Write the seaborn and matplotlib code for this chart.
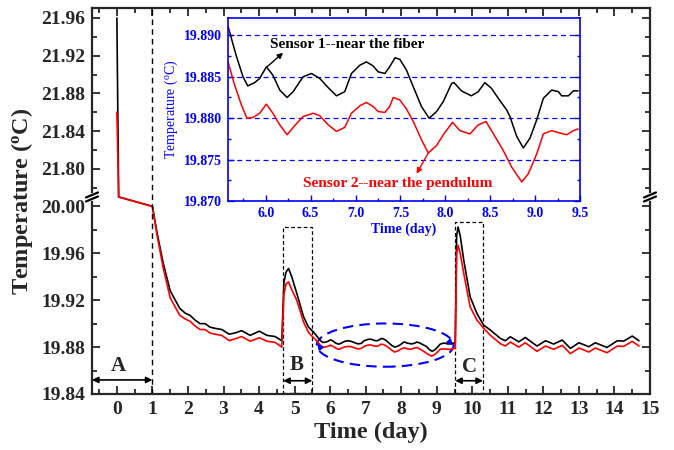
import numpy as np
import pandas as pd
import matplotlib
matplotlib.use("Agg")
import matplotlib.pyplot as plt
import seaborn as sns
from matplotlib.patches import Ellipse, Rectangle
from matplotlib.lines import Line2D
from matplotlib.ticker import FixedLocator, FormatStrFormatter, MultipleLocator

# ---- main curve, before the inset window (day 0 - 5.55)
pre_days = [0.00, 0.05, 1.00, 1.12, 1.30, 1.50, 1.77, 1.92, 2.06, 2.20, 2.34, 2.48,
            2.62, 2.76, 2.95, 3.16, 3.32, 3.51, 3.75, 4.01, 4.22, 4.45, 4.64, 4.70,
            4.76, 4.83, 4.92, 5.06, 5.25, 5.39, 5.53]
pre_black = [21.96, 21.77, 20.000, 19.979, 19.952, 19.928, 19.913, 19.909, 19.907, 19.903,
             19.900, 19.900, 19.897, 19.896, 19.895, 19.891, 19.892, 19.894, 19.890,
             19.8936, 19.890, 19.889, 19.8854, 19.935, 19.944, 19.947, 19.940, 19.926,
             19.906, 19.897, 19.893]
pre_red = [21.86, 21.77, 20.000, 19.977, 19.948, 19.922, 19.907, 19.904, 19.902, 19.898,
           19.895, 19.895, 19.892, 19.891, 19.890, 19.8855, 19.887, 19.889, 19.885,
           19.888, 19.885, 19.884, 19.880, 19.925, 19.934, 19.9356, 19.929, 19.920,
           19.9015, 19.8925, 19.888]

# ---- main curve, after the inset window (day 9.52 - 14.7)
post_days = [9.52, 9.56, 9.60, 9.66, 9.76, 9.94, 10.13, 10.32, 10.51, 10.79, 10.93,
             11.07, 11.31, 11.49, 11.82, 12.06, 12.29, 12.53, 12.76, 13.00, 13.28,
             13.46, 13.79, 14.08, 14.26, 14.50, 14.69]
post_black = [19.8840, 19.975, 19.9824, 19.975, 19.954, 19.9228, 19.9087, 19.8987,
              19.8945, 19.8874, 19.8854, 19.8888, 19.8845, 19.8882, 19.8809, 19.8854,
              19.8826, 19.8860, 19.8789, 19.8837, 19.8803, 19.8837, 19.8797, 19.8854,
              19.8851, 19.8894, 19.8854]
post_red = [19.8790, 19.960, 19.9668, 19.960, 19.9427, 19.9143, 19.903, 19.896,
            19.890, 19.8829, 19.8809, 19.8843, 19.8800, 19.8837, 19.8764, 19.8809,
            19.8781, 19.8815, 19.8744, 19.8792, 19.8758, 19.8792, 19.8752, 19.8809,
            19.8806, 19.8849, 19.8809]

# ---- inset window (day 5.58 - 9.48), also part of the main curve
ins_days_black = [5.58, 5.673, 5.747, 5.80, 5.877, 5.933, 6.007, 6.08, 6.156, 6.238,
                  6.305, 6.416, 6.51, 6.602, 6.695, 6.788, 6.88, 6.955, 7.048, 7.122,
                  7.197, 7.252, 7.327, 7.38, 7.44, 7.494, 7.568, 7.643, 7.735, 7.82,
                  7.903, 7.977, 8.07, 8.096, 8.18, 8.29, 8.367, 8.44, 8.515, 8.59,
                  8.683, 8.72, 8.795, 8.869, 8.943, 9.018, 9.092, 9.185, 9.26, 9.296,
                  9.37, 9.426, 9.48]
ins_black = [19.8911, 19.8875, 19.8850, 19.8839, 19.8843, 19.8848, 19.8862, 19.8852,
             19.8834, 19.8825, 19.8832, 19.8850, 19.8854, 19.8848, 19.8837, 19.8827,
             19.8832, 19.8854, 19.8864, 19.8868, 19.8863, 19.8856, 19.8854, 19.8862,
             19.8873, 19.8871, 19.8858, 19.8838, 19.8814, 19.8800, 19.8808, 19.8820,
             19.8842, 19.8843, 19.8833, 19.8827, 19.8832, 19.8843, 19.8836, 19.8824,
             19.8810, 19.8802, 19.8778, 19.8764, 19.8776, 19.8798, 19.8824, 19.8834,
             19.8832, 19.8827, 19.8827, 19.8833, 19.8833]
ins_days_red = [5.58, 5.654, 5.729, 5.79, 5.859, 5.933, 6.007, 6.08, 6.156, 6.238,
                6.323, 6.416, 6.528, 6.602, 6.695, 6.788, 6.88, 6.955, 7.048, 7.122,
                7.197, 7.252, 7.327, 7.38, 7.42, 7.494, 7.568, 7.643, 7.735, 7.81,
                7.903, 7.977, 8.08, 8.163, 8.274, 8.367, 8.453, 8.553, 8.645, 8.739,
                8.851, 8.925, 9.018, 9.092, 9.185, 9.278, 9.352, 9.426, 9.48]
ins_red = [19.8868, 19.8840, 19.8816, 19.8800, 19.8801, 19.8806, 19.8817, 19.8806,
           19.8792, 19.8780, 19.8791, 19.8802, 19.8806, 19.8803, 19.8792, 19.8784,
           19.8789, 19.8806, 19.8815, 19.8819, 19.8814, 19.8808, 19.8807, 19.8814,
           19.8825, 19.8822, 19.8811, 19.8796, 19.8774, 19.8758, 19.8767, 19.8780,
           19.8795, 19.8785, 19.8781, 19.8792, 19.8796, 19.8778, 19.8761, 19.8741,
           19.8723, 19.8733, 19.8757, 19.8781, 19.8785, 19.8782, 19.8780, 19.8785,
           19.8787]

main_yticks = [19.84, 19.88, 19.92, 19.96, 20.00, 21.80, 21.84, 21.88, 21.92, 21.96]
main_yminor = [19.86, 19.90, 19.94, 19.98, 21.78, 21.82, 21.86, 21.90, 21.94]
inset_yticks = [19.870, 19.875, 19.880, 19.885, 19.890]

# ---- broken y axis: 19.84-20.008 and 21.77-21.97 with the gap squeezed out
LO0, LO_TOP, HI_BOT = 19.84, 20.008, 21.77
LO_K, HI_K, GAP_K = 1175.0, 943.75, 0.01
BASE = (LO_TOP - LO0) * LO_K
GTOP = BASE + (HI_BOT - LO_TOP) * GAP_K


def fwd(y):
    y = np.asarray(y, dtype=float)
    lo = (y - LO0) * LO_K
    gap = BASE + (y - LO_TOP) * GAP_K
    hi = GTOP + (y - HI_BOT) * HI_K
    return np.where(y <= LO_TOP, lo, np.where(y >= HI_BOT, hi, gap))


def inv(v):
    v = np.asarray(v, dtype=float)
    lo = LO0 + v / LO_K
    gap = LO_TOP + (v - BASE) / GAP_K
    hi = HI_BOT + (v - GTOP) / HI_K
    return np.where(v <= BASE, lo, np.where(v >= GTOP, hi, gap))


def to_frame(days_b, vals_b, days_r, vals_r):
    return pd.concat([
        pd.DataFrame({"day": days_b, "temp": vals_b, "sensor": "Sensor 1"}),
        pd.DataFrame({"day": days_r, "temp": vals_r, "sensor": "Sensor 2"}),
    ], ignore_index=True)


sns.set_style("ticks", {"xtick.direction": "in", "ytick.direction": "in"})
plt.rcParams["font.family"] = ["Liberation Serif", "DejaVu Serif"]
plt.rcParams["font.weight"] = "bold"
plt.rcParams["mathtext.default"] = "regular"

palette = {"Sensor 1": "black", "Sensor 2": "red"}
BLUE = "#0000ff"

main_df = to_frame(pre_days + ins_days_black + post_days,
                   pre_black + ins_black + post_black,
                   pre_days + ins_days_red + post_days,
                   pre_red + ins_red + post_red)
inset_df = to_frame(ins_days_black, ins_black, ins_days_red, ins_red)

fig = plt.figure(figsize=(6.74, 4.5), dpi=100)
ax = fig.add_axes([92 / 674, 1 - 394 / 450, 558 / 674, 386 / 450])
ax.set_yscale("function", functions=(fwd, inv))

sns.lineplot(data=main_df, x="day", y="temp", hue="sensor", palette=palette,
             estimator=None, sort=False, legend=False, lw=1.2, ax=ax)

ax.set_xlim(-0.70, 15.0)
ax.set_ylim(19.84, 21.9706)
ax.xaxis.set_major_locator(MultipleLocator(1))
ax.xaxis.set_minor_locator(MultipleLocator(0.5))
ax.yaxis.set_major_locator(FixedLocator(main_yticks))
ax.yaxis.set_minor_locator(FixedLocator(main_yminor))
ax.yaxis.set_major_formatter(FormatStrFormatter("%.2f"))
ax.tick_params(which="both", direction="in", top=True, right=True, width=1.3)
ax.tick_params(which="major", length=6, labelsize=14, pad=5)
ax.tick_params(which="minor", length=3.5)
for s in ax.spines.values():
    s.set_linewidth(1.6)
ax.set_xlabel("Time (day)", fontsize=17.5, fontweight="bold", labelpad=3)
ax.set_ylabel("Temperature ($\\mathregular{^o}$C)", fontsize=17.5,
              fontweight="bold", labelpad=4)

# dashed guide at day 1 and the A / B / C markers
ax.axvline(1.0, color="black", ls=(0, (4, 3)), lw=1.0)
ax.add_patch(Rectangle((4.68, 19.8405), 0.82, 0.1419, fill=False, ec="black",
                       ls=(0, (3, 2)), lw=0.9))
ax.add_patch(Rectangle((9.52, 19.8405), 0.78, 0.1461, fill=False, ec="black",
                       ls=(0, (3, 2)), lw=0.9))
arrow = dict(arrowstyle="<|-|>", color="black", lw=1.2, mutation_scale=9,
             shrinkA=0, shrinkB=0)
ax.annotate("", xy=(-0.70, 19.852), xytext=(1.0, 19.852), arrowprops=arrow)
ax.annotate("", xy=(4.68, 19.8513), xytext=(5.50, 19.8513), arrowprops=arrow)
ax.annotate("", xy=(9.52, 19.8513), xytext=(10.30, 19.8513), arrowprops=arrow)
for lab, lx, ly in [("A", 0.03, 19.8638), ("B", 5.06, 19.8647), ("C", 9.92, 19.8632)]:
    ax.text(lx, ly, lab, fontsize=15, fontweight="bold", ha="center", va="center")

ax.add_patch(Ellipse((7.55, 19.8817), 3.85, 0.0369, fill=False, ec=BLUE,
                     ls=(0, (5, 3)), lw=1.5))
small = dict(arrowstyle="-|>", color=BLUE, lw=1.2, mutation_scale=8, shrinkA=0, shrinkB=0)
ax.annotate("", xy=(9.46, 19.8815), xytext=(9.38, 19.8840), arrowprops=small)
ax.annotate("", xy=(5.64, 19.8830), xytext=(5.70, 19.8805), arrowprops=small)

# break marks on both spines
yb = ax.transAxes.inverted().transform(ax.transData.transform((0, LO_TOP)))[1]
bx0, bw = 92 / 674, 558 / 674
by = 1 - 394 / 450 + yb * 386 / 450
dx, dy, sep = 6 / 674, 2.5 / 450, 4 / 450
for xa in (bx0, bx0 + bw):
    fig.add_artist(Line2D([xa, xa], [by - sep / 2, by + sep / 2], color="white",
                          lw=3, transform=fig.transFigure))
    for off in (-sep / 2, sep / 2):
        fig.add_artist(Line2D([xa - dx, xa + dx], [by + off - dy, by + off + dy],
                              color="black", lw=1.6, transform=fig.transFigure))

# ---- inset
axi = fig.add_axes([228 / 674, 1 - 201 / 450, 352 / 674, 183 / 450])
axi.set_facecolor("white")
sns.lineplot(data=inset_df, x="day", y="temp", hue="sensor", palette=palette,
             estimator=None, sort=False, legend=False, lw=1.1, ax=axi)
axi.set_xlim(5.58, 9.5)
axi.set_ylim(19.870, 19.8921)
axi.xaxis.set_major_locator(MultipleLocator(0.5))
axi.xaxis.set_minor_locator(MultipleLocator(0.25))
axi.yaxis.set_major_locator(FixedLocator(inset_yticks))
axi.yaxis.set_minor_locator(MultipleLocator(0.0025))
axi.xaxis.set_major_formatter(FormatStrFormatter("%.1f"))
axi.yaxis.set_major_formatter(FormatStrFormatter("%.3f"))
axi.tick_params(which="both", direction="in", right=True, colors=BLUE,
                labelcolor=BLUE, width=1.0)
axi.tick_params(which="major", length=4, labelsize=10, pad=4)
axi.tick_params(which="minor", length=2.5)
for s in axi.spines.values():
    s.set_color(BLUE)
    s.set_linewidth(1.2)
for yv in inset_yticks[1:]:
    axi.axhline(yv, color=BLUE, ls=(0, (4, 3)), lw=0.9, zorder=0)
axi.set_xlabel("Time (day)", fontsize=10, fontweight="bold", color=BLUE, labelpad=2)
axi.set_ylabel("Temperature ($\\mathregular{^o}$C)", fontsize=10,
               fontweight="normal", color=BLUE, labelpad=3)

axi.text(6.045, 19.8889, "Sensor 1--near the fiber", fontsize=11,
         fontweight="bold", color="black", ha="left", va="center")
axi.text(6.41, 19.8721, "Sensor 2--near the pendulum", fontsize=11,
         fontweight="bold", color="red", ha="left", va="center")
axi.annotate("", xy=(6.193, 19.8879), xytext=(6.015, 19.8862),
             arrowprops=dict(arrowstyle="-|>", color="black", lw=1.0,
                             mutation_scale=8, shrinkA=0, shrinkB=0))
axi.annotate("", xy=(7.68, 19.8733), xytext=(7.81, 19.8758),
             arrowprops=dict(arrowstyle="-|>", color="red", lw=1.0,
                             mutation_scale=8, shrinkA=0, shrinkB=0))

fig.savefig("out.png", dpi=100)
